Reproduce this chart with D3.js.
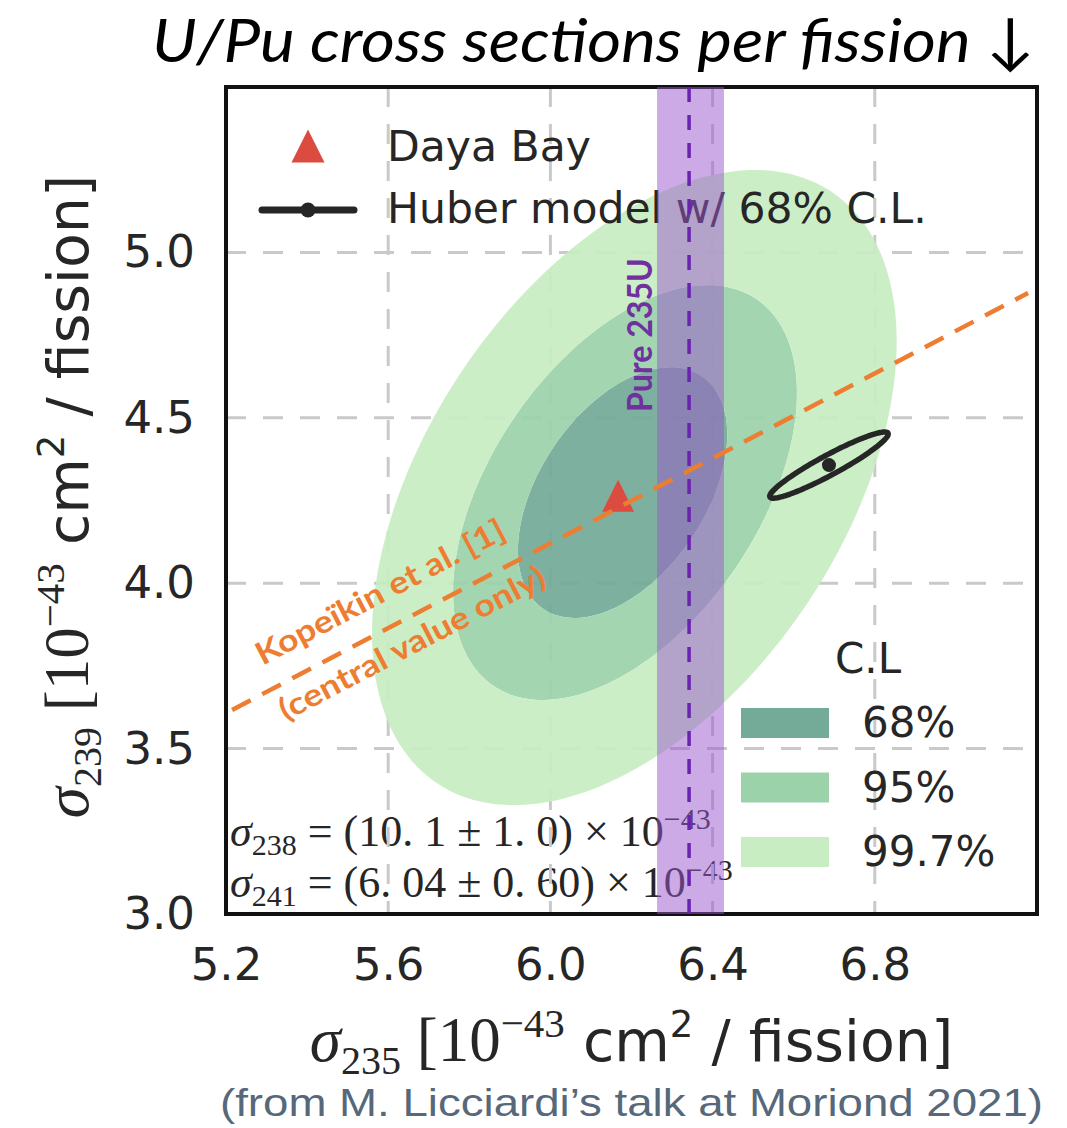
<!DOCTYPE html>
<html><head><meta charset="utf-8">
<script src="https://cdn.jsdelivr.net/npm/d3@7"></script>
<style>body{margin:0;background:#fff} svg{display:block}</style>
</head><body>
<svg id="c" width="1067" height="1128"></svg>
<script>
// ---------------- data ----------------
const xTicks = [5.2, 5.6, 6.0, 6.4, 6.8];
const yTicks = [3.0, 3.5, 4.0, 4.5, 5.0];
const clLabels = ["68%", "95%", "99.7%"];
const clColors = ["#74aa98", "#9bd2aa", "#c8edc3"];
// confidence contours (sigma235, sigma239): centre, half extents, correlation
const clCx = [6.178, 6.184, 6.207];
const clCy = [4.274, 4.274, 4.289];
const clHx = [0.258, 0.424, 0.647];
const clHy = [0.379, 0.627, 0.960];
const clRho = [0.46, 0.48, 0.46];
const dayaBayX = 6.167, dayaBayY = 4.264;
const huberX = 6.687, huberY = 4.357, huberHx = 0.146, huberHy = 0.100, huberRho = 0.94;
const kopeikinX = [5.215, 7.178];
const kopeikinY = [3.617, 4.877];
const pure235Band = [6.263, 6.428];
const pure235Line = 6.342;

// ---------------- setup ----------------
const svg = d3.select("#c");
const x = d3.scaleLinear().domain([5.2, 7.2]).range([226, 1037]);
const y = d3.scaleLinear().domain([3.0, 5.5]).range([914, 87]);
const SERIF = "'Liberation Serif', 'DejaVu Serif', serif";
const SANS = "'DejaVu Sans', sans-serif";
const INK = "#262626";

function ellipsePts(cx, cy, hx, hy, rho) {
  const n = 180, pts = [], s = Math.sqrt(1 - rho * rho);
  for (let i = 0; i < n; i++) {
    const t = 2 * Math.PI * i / n;
    pts.push([x(cx + hx * Math.cos(t)), y(cy + hy * (rho * Math.cos(t) + s * Math.sin(t)))]);
  }
  return pts;
}
const closed = d3.line().curve(d3.curveLinearClosed);

// ---------------- annotation (under grid) ----------------
function mathLine(yb, sub, body) {
  const t = svg.append("text").attr("x", 230).attr("y", yb)
    .attr("fill", INK).attr("font-family", SERIF).attr("font-size", 44)
    .attr("xml:space", "preserve");
  t.append("tspan").attr("font-style", "italic").text("σ");
  t.append("tspan").attr("font-size", 30).attr("dy", 9).text(sub);
  t.append("tspan").attr("dy", -9).text(body);
  t.append("tspan").attr("font-size", 30).attr("dy", -17).text("−43");
}
mathLine(846, "238", " = (10. 1 ± 1. 0) × 10");
mathLine(897, "241", " = (6. 04 ± 0. 60) × 10");

// ---------------- grid ----------------
const grid = svg.append("g").attr("stroke", "#c9c9c9").attr("stroke-width", 3)
  .attr("stroke-dasharray", "20,17");
grid.selectAll(".gx").data(xTicks).join("line")
  .attr("x1", d => x(d)).attr("x2", d => x(d)).attr("y1", y(5.5)).attr("y2", y(3.0));
grid.selectAll(".gy").data(yTicks).join("line")
  .attr("y1", d => y(d)).attr("y2", d => y(d)).attr("x1", x(5.2)).attr("x2", x(7.2));

// ---------------- contours (rings) ----------------
const ells = clCx.map((c, i) => ellipsePts(clCx[i], clCy[i], clHx[i], clHy[i], clRho[i]));
svg.append("g").selectAll("path").data(clLabels).join("path")
  .attr("d", (d, i) => closed(ells[i]) + (i > 0 ? closed(ells[i - 1]) : ""))
  .attr("fill-rule", "evenodd")
  .attr("fill", (d, i) => clColors[i])
  .attr("fill-opacity", 0.93);

// ---------------- Daya Bay point ----------------
function tri(cx, cy, s) {
  return `M${cx},${cy - s / 2}L${cx + s / 2},${cy + s / 2}L${cx - s / 2},${cy + s / 2}Z`;
}
svg.append("path").attr("d", tri(x(dayaBayX), y(dayaBayY), 32)).attr("fill", "#dc4b40");

// ---------------- Huber model ----------------
svg.append("path").attr("d", closed(ellipsePts(huberX, huberY, huberHx, huberHy, huberRho)))
  .attr("fill", "none").attr("stroke", INK).attr("stroke-width", 5.5);
svg.append("circle").attr("cx", x(huberX)).attr("cy", y(huberY)).attr("r", 7).attr("fill", INK);

// ---------------- axes ----------------
const xAxis = svg.append("g").attr("transform", `translate(0,${y(3.0)})`)
  .call(d3.axisBottom(x).tickValues(xTicks).tickSize(0).tickPadding(34).tickFormat(d3.format(".1f")));
const yAxis = svg.append("g").attr("transform", `translate(${x(5.2)},0)`)
  .call(d3.axisLeft(y).tickValues(yTicks).tickSize(0).tickPadding(31).tickFormat(d3.format(".1f")));
[xAxis, yAxis].forEach(a => {
  a.select(".domain").remove();
  a.selectAll("text").attr("font-family", SANS).attr("font-size", 45).attr("fill", INK);
});

// axis titles
function axisTitle(g, sub) {
  const t = g.append("text").attr("text-anchor", "middle").attr("fill", INK)
    .attr("xml:space", "preserve");
  t.append("tspan").attr("font-family", SERIF).attr("font-style", "italic").attr("font-size", 63).text("σ");
  t.append("tspan").attr("font-family", SERIF).attr("font-size", 40).attr("dy", 13).text(sub);
  t.append("tspan").attr("font-family", SERIF).attr("font-size", 63).attr("dy", -13).text(" [10");
  t.append("tspan").attr("font-family", SERIF).attr("font-size", 41).attr("dy", -24).text("−43");
  t.append("tspan").attr("font-family", SANS).attr("font-size", 57).attr("dy", 24).text(" cm");
  t.append("tspan").attr("font-family", SANS).attr("font-size", 37).attr("dy", -24).text("2");
  t.append("tspan").attr("font-family", SANS).attr("font-size", 57).attr("dy", 24).text(" / fission]");
}
axisTitle(svg.append("g").attr("transform", `translate(${(x(5.2) + x(7.2)) / 2},1061)`), "235");
axisTitle(svg.append("g").attr("transform", `translate(88,${(y(3.0) + y(5.5)) / 2 - 4}) rotate(-90)`), "239");

// ---------------- legend (top) ----------------
svg.append("path").attr("d", tri(308, 146, 33)).attr("fill", "#dc4b40");
svg.append("line").attr("x1", 262).attr("x2", 354).attr("y1", 210).attr("y2", 210)
  .attr("stroke", INK).attr("stroke-width", 7).attr("stroke-linecap", "round");
svg.append("circle").attr("cx", 308).attr("cy", 210).attr("r", 7.5).attr("fill", INK);
svg.append("text").attr("x", 387).attr("y", 161).attr("font-family", SANS).attr("font-size", 42.5)
  .attr("fill", INK).text("Daya Bay");
svg.append("text").attr("x", 387).attr("y", 223).attr("font-family", SANS).attr("font-size", 42.5)
  .attr("fill", INK).text("Huber model w/ 68% C.L.");

// ---------------- legend (C.L) ----------------
svg.append("text").attr("x", 835).attr("y", 673).attr("font-family", SANS).attr("font-size", 42)
  .attr("fill", INK).text("C.L");
const lg = svg.append("g").selectAll("g").data(clLabels).join("g")
  .attr("transform", (d, i) => `translate(741,${708 + i * 64.5})`);
lg.append("rect").attr("width", 88).attr("height", 30).attr("fill", (d, i) => clColors[i]);
lg.append("text").attr("x", 121).attr("y", 29).attr("font-family", SANS).attr("font-size", 42)
  .attr("fill", INK).text(d => d);

// ---------------- frame ----------------
svg.append("rect").attr("x", x(5.2)).attr("y", y(5.5))
  .attr("width", x(7.2) - x(5.2)).attr("height", y(3.0) - y(5.5))
  .attr("fill", "none").attr("stroke", "#111").attr("stroke-width", 4);

// ---------------- overlays: pure 235U band ----------------
svg.append("rect").attr("x", x(pure235Band[0])).attr("y", y(5.5))
  .attr("width", x(pure235Band[1]) - x(pure235Band[0])).attr("height", y(3.0) - y(5.5))
  .attr("fill", "#9a55cc").attr("fill-opacity", 0.5);
svg.append("line").attr("x1", x(pure235Line)).attr("x2", x(pure235Line))
  .attr("y1", y(5.5)).attr("y2", y(3.0))
  .attr("stroke", "#6a22b0").attr("stroke-width", 3.5).attr("stroke-dasharray", "15,13");
svg.append("text").attr("transform", `translate(${x(pure235Band[0]) - 5},${y(4.75)}) rotate(-90)`)
  .attr("text-anchor", "middle").attr("font-family", "Lato, 'Open Sans', sans-serif")
  .attr("font-weight", 700).attr("font-size", 35).attr("fill", "#7030a0")
  .attr("textLength", 154).attr("lengthAdjust", "spacingAndGlyphs").text("Pure 235U");

// ---------------- Kopeikin line ----------------
svg.append("line")
  .attr("x1", x(kopeikinX[0])).attr("y1", y(kopeikinY[0]))
  .attr("x2", x(kopeikinX[1])).attr("y2", y(kopeikinY[1]))
  .attr("stroke", "#ed7d31").attr("stroke-width", 4.5).attr("stroke-dasharray", "21,13");
const ang = Math.atan2(y(kopeikinY[1]) - y(kopeikinY[0]), x(kopeikinX[1]) - x(kopeikinX[0])) * 180 / Math.PI;
const kx = 5.29;
const ky = kopeikinY[0] + (kx - kopeikinX[0]) * (kopeikinY[1] - kopeikinY[0]) / (kopeikinX[1] - kopeikinX[0]);
const kg = svg.append("g").attr("transform", `translate(${x(kx)},${y(ky)}) rotate(${ang})`)
  .attr("font-family", "Lato, 'Open Sans', sans-serif").attr("font-weight", 700)
  .attr("font-size", 31).attr("fill", "#ed7d31");
kg.append("text").attr("x", 13).attr("y", -25).attr("textLength", 277)
  .attr("lengthAdjust", "spacingAndGlyphs").text("Kopeïkin et al. [1]");
kg.append("text").attr("x", 8).attr("y", 35).attr("textLength", 296)
  .attr("lengthAdjust", "spacingAndGlyphs").text("(central value only)");

// ---------------- title & source ----------------
svg.append("text").attr("x", 152).attr("y", 62).attr("font-family", "Lato, 'Open Sans', sans-serif")
  .attr("font-style", "italic").attr("font-size", 61).attr("fill", "#000")
  .attr("textLength", 883).attr("lengthAdjust", "spacingAndGlyphs")
  .text("U/Pu cross sections per fission ↓");
svg.append("text").attr("x", 1043).attr("y", 1116).attr("text-anchor", "end")
  .attr("font-family", "'Liberation Sans', Arial, sans-serif").attr("font-size", 39)
  .attr("fill", "#56687a").attr("textLength", 823).attr("lengthAdjust", "spacingAndGlyphs")
  .text("(from M. Licciardi’s talk at Moriond 2021)");
</script>
</body></html>
